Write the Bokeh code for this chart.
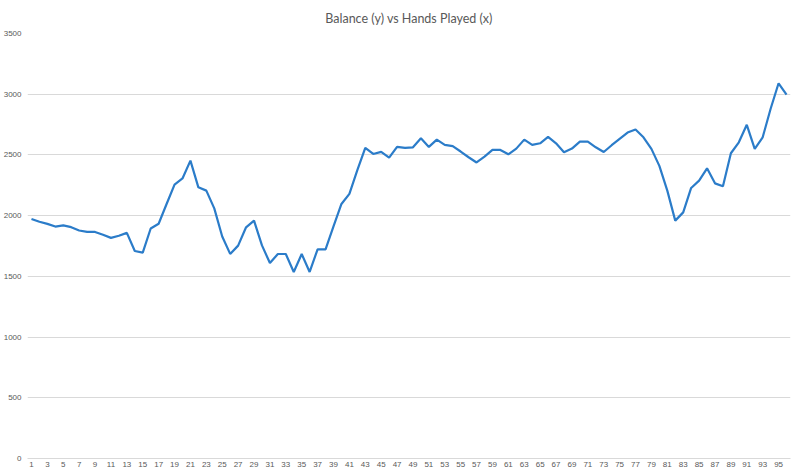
from bokeh.plotting import figure
from bokeh.models import Range1d, FixedTicker, ColumnDataSource
from bokeh.embed import file_html
from bokeh.resources import INLINE

hands = list(range(1, 97))
balance = [
    1973, 1950, 1932, 1910, 1920, 1905, 1878, 1866, 1866, 1843,
    1817, 1834, 1858, 1709, 1695, 1894, 1933, 2096, 2256, 2306,
    2453, 2233, 2206, 2060, 1828, 1685, 1753, 1904, 1959, 1755,
    1610, 1684, 1684, 1536, 1684, 1536, 1723, 1723, 1912, 2096,
    2179, 2375, 2558, 2508, 2525, 2477, 2566, 2558, 2563, 2637,
    2566, 2626, 2583, 2572, 2528, 2481, 2438, 2486, 2541, 2541,
    2505, 2552, 2626, 2583, 2596, 2648, 2596, 2522, 2552, 2610,
    2610, 2563, 2524, 2580, 2632, 2684, 2709, 2645, 2550, 2410,
    2206, 1959, 2027, 2228, 2288, 2390, 2266, 2242, 2514, 2604,
    2748, 2550, 2645, 2880, 3090, 2997,
]
x_tick_labels = [str(v) for v in range(1, 97, 2)]
y_ticks = [0, 500, 1000, 1500, 2000, 2500, 3000, 3500]

source = ColumnDataSource(data=dict(x=hands, y=balance))

p = figure(
    width=792, height=469,
    output_backend="svg", toolbar_location=None,
    x_range=Range1d(0.5, 96.5), y_range=Range1d(0, 3500),
    min_border_left=26, min_border_right=2, min_border_top=31, min_border_bottom=0,
    title="Balance (y) vs Hands Played (x)",
)
p.outline_line_color = None
p.background_fill_color = "white"
p.border_fill_color = "white"

p.title.align = "center"
p.title.text_font = "Lato"
p.title.text_font_style = "normal"
p.title.text_font_size = "12.5px"
p.title.text_color = "#595959"
p.title.standoff = 16

p.line("x", "y", source=source, line_color="#2b7cc9", line_width=2.2)

# x axis
p.xaxis.ticker = FixedTicker(ticks=[int(t) for t in x_tick_labels])
p.xaxis.major_label_overrides = {int(t): t for t in x_tick_labels}
p.xaxis.axis_line_color = "#d9d9d9"
p.xaxis.major_tick_line_color = None
p.xaxis.minor_tick_line_color = None
p.xaxis.major_tick_out = 0
p.xaxis.major_tick_in = 0
p.xaxis.minor_tick_out = 0
p.xaxis.minor_tick_in = 0
p.xaxis.major_label_text_font = "Liberation Sans"
p.xaxis.major_label_text_font_size = "8px"
p.xaxis.major_label_text_color = "#595959"
p.xaxis.major_label_standoff = 3
p.xgrid.grid_line_color = None

# y axis
p.yaxis.ticker = FixedTicker(ticks=y_ticks)
p.yaxis.axis_line_color = None
p.yaxis.major_tick_line_color = None
p.yaxis.minor_tick_line_color = None
p.yaxis.major_tick_out = 0
p.yaxis.major_tick_in = 0
p.yaxis.minor_tick_out = 0
p.yaxis.minor_tick_in = 0
p.yaxis.major_label_text_font = "Liberation Sans"
p.yaxis.major_label_text_font_size = "8px"
p.yaxis.major_label_text_color = "#595959"
p.yaxis.major_label_standoff = 6
p.ygrid.grid_line_color = "#d9d9d9"
p.ygrid.grid_line_width = 1

open("out.html", "w").write(file_html(p, INLINE))
